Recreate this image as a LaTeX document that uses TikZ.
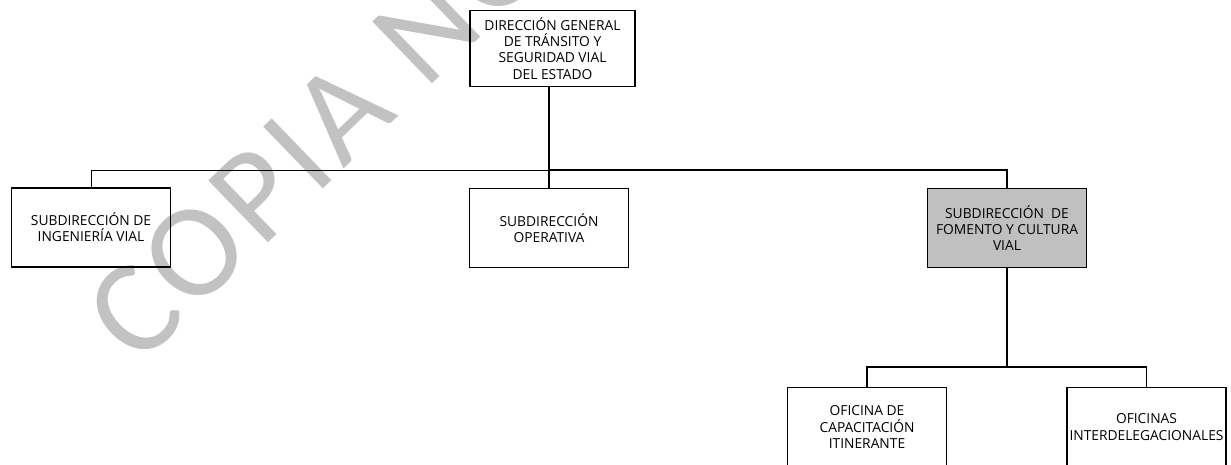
\documentclass[tikz,border=0pt]{standalone}
\usepackage{fontspec}
\setmainfont{Open Sans}
\newfontfamily\wmfont[LetterSpace=4.5]{Carlito}
\definecolor{boxgray}{HTML}{C0C0C0}
\definecolor{wmgray}{HTML}{C2C2C2}
\tikzset{
  orgbox/.style={draw, line width=1.8pt, minimum width=159pt, minimum height=79pt,
    align=center, inner sep=0pt, font=\fontsize{13.8}{16.2}\selectfont},
  link/.style={line width=1.8pt},
  thinlink/.style={line width=0.9pt},
}
\begin{document}
\begin{tikzpicture}[x=1pt,y=-1pt]
\useasboundingbox (0,0) rectangle (1231,464);
% watermark behind everything
\begin{scope}
  \clip (0,0) rectangle (1231,464);
  \node[rotate=44, anchor=base west, text=wmgray, inner sep=0pt,
    font=\wmfont\fontsize{134}{134}\selectfont] (wm) at (138,368) {COPIA NO};
\end{scope}

\node[orgbox, minimum width=165pt, minimum height=76pt] (dir) at (552.5,48.5)
  {DIRECCIÓN GENERAL\\DE TRÁNSITO Y\\SEGURIDAD VIAL\\DEL ESTADO};
\node[orgbox] (ing) at (91,227.5) {SUBDIRECCIÓN DE\\INGENIERÍA VIAL};
\node[orgbox] (ope) at (549,228) {SUBDIRECCIÓN\\OPERATIVA};
\node[orgbox, fill=boxgray] (fom) at (1007,228) {SUBDIRECCIÓN\ \ DE\\FOMENTO Y CULTURA\\VIAL};
\node[orgbox] (cap) at (867,427) {OFICINA DE\\CAPACITACIÓN\\ITINERANTE};
\node[orgbox] (inter) at (1146.5,427) {OFICINAS\\INTERDELEGACIONALES};

\coordinate (bus) at (549,170);
\coordinate (bus2) at (1007,367);

\draw[link] (dir.south -| ope.north) -- (bus);
\draw[thinlink] (bus) -| (ing.north);
\draw[link] (bus) -| (fom.north);
\draw[link] (bus) -- (ope.north);
\draw[link] (fom.south) -- (bus2);
\draw[link] (cap.north) |- (bus2) -| (inter.north);
\end{tikzpicture}
\end{document}
